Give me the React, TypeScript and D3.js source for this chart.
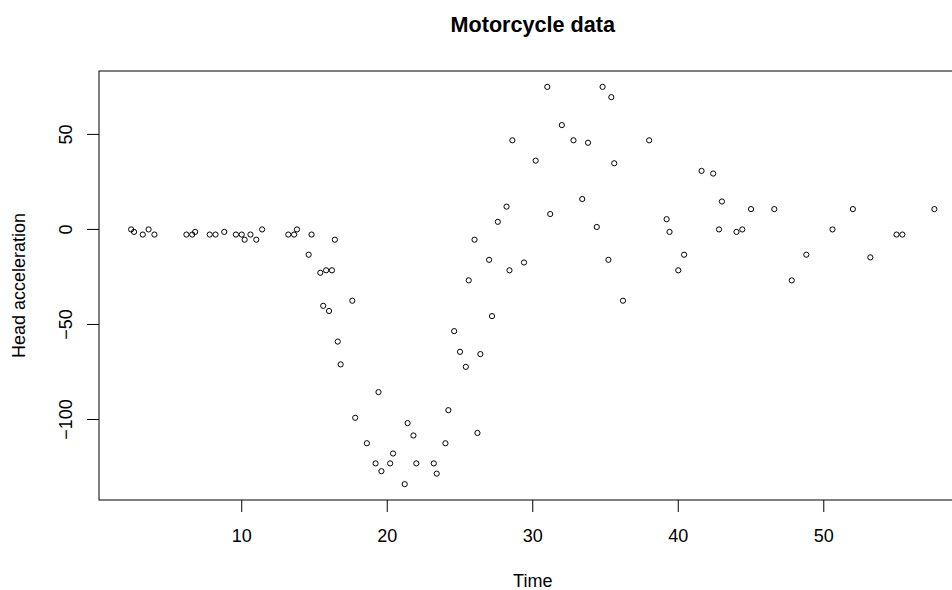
import React from "react";
import * as d3 from "d3";

// mcycle (MASS): first reading at each distinct time
const times = [
  2.4, 2.6, 3.2, 3.6, 4.0, 6.2, 6.6, 6.8, 7.8, 8.2, 8.8, 9.6, 10.0, 10.2, 10.6, 11.0, 11.4,
  13.2, 13.6, 13.8, 14.6, 14.8, 15.4, 15.6, 15.8, 16.0, 16.2, 16.4, 16.6, 16.8, 17.6, 17.8,
  18.6, 19.2, 19.4, 19.6, 20.2, 20.4, 21.2, 21.4, 21.8, 22.0, 23.2, 23.4, 24.0, 24.2, 24.6,
  25.0, 25.4, 25.6, 26.0, 26.2, 26.4, 27.0, 27.2, 27.6, 28.2, 28.4, 28.6, 29.4, 30.2, 31.0,
  31.2, 32.0, 32.8, 33.4, 33.8, 34.4, 34.8, 35.2, 35.4, 35.6, 36.2, 38.0, 39.2, 39.4, 40.0,
  40.4, 41.6, 42.4, 42.8, 43.0, 44.0, 44.4, 45.0, 46.6, 47.8, 48.8, 50.6, 52.0, 53.2, 55.0,
  55.4, 57.6,
];
const accel = [
  0.0, -1.3, -2.7, 0.0, -2.7, -2.7, -2.7, -1.3, -2.7, -2.7, -1.3, -2.7, -2.7, -5.4, -2.7, -5.4, 0.0,
  -2.7, -2.7, 0.0, -13.3, -2.7, -22.8, -40.2, -21.5, -42.9, -21.5, -5.4, -59.0, -71.0, -37.5, -99.1,
  -112.5, -123.1, -85.6, -127.2, -123.1, -117.9, -134.0, -101.9, -108.4, -123.1, -123.1, -128.5, -112.5, -95.1, -53.5,
  -64.4, -72.3, -26.8, -5.4, -107.1, -65.6, -16.0, -45.6, 4.0, 12.0, -21.5, 46.9, -17.4, 36.2, 75.0,
  8.1, 54.9, 46.9, 16.0, 45.6, 1.3, 75.0, -16.0, 69.6, 34.8, -37.5, 46.9, 5.4, -1.3, -21.5,
  -13.3, 30.8, 29.4, 0.0, 14.7, -1.3, 0.0, 10.7, 10.7, -26.8, -13.3, 0.0, 10.7, -14.7, -2.7,
  -2.7, 10.7,
];
const xTicks = [10, 20, 30, 40, 50];
const yTicks = [-100, -50, 0, 50];

const title = "Motorcycle data";
const xLabel = "Time";
const yLabel = "Head acceleration";

export default function App() {
  const W = 952;
  const H = 590;
  const left = 99;
  const right = 966.5;
  const top = 71;
  const bottom = 500;
  const font = "'Liberation Sans', Arial, Helvetica, sans-serif";

  const xExt = d3.extent(times) as [number, number];
  const yExt = d3.extent(accel) as [number, number];
  const xPad = (xExt[1] - xExt[0]) * 0.04;
  const yPad = (yExt[1] - yExt[0]) * 0.04;

  const x = d3.scaleLinear().domain([xExt[0] - xPad, xExt[1] + xPad]).range([left, right]);
  const y = d3.scaleLinear().domain([yExt[0] - yPad, yExt[1] + yPad]).range([bottom, top]);

  const fmt = (v: number) => String(v).replace("-", "\u2212");

  return (
    <svg
      width={W}
      height={H}
      style={{ position: "absolute", left: 0, top: 0, background: "#fff" }}
      fontFamily={font}
    >
      <rect x={0} y={0} width={W} height={H} fill="#fff" />
      <text x={(left + right) / 2} y={32} textAnchor="middle" fontSize={21.6} fontWeight="bold">
        {title}
      </text>

      <rect x={left} y={top} width={right - left} height={bottom - top} fill="none" stroke="#000" strokeWidth={1} />

      {xTicks.map((t) => (
        <g key={t}>
          <line x1={x(t)} x2={x(t)} y1={bottom} y2={bottom + 12} stroke="#000" />
          <text x={x(t)} y={542} textAnchor="middle" fontSize={18}>
            {fmt(t)}
          </text>
        </g>
      ))}

      {yTicks.map((t) => (
        <g key={t}>
          <line x1={left - 12} x2={left} y1={y(t)} y2={y(t)} stroke="#000" />
          <text
            transform={`translate(72,${y(t)}) rotate(-90)`}
            textAnchor="middle"
            fontSize={18}
          >
            {fmt(t)}
          </text>
        </g>
      ))}

      <text x={(left + right) / 2} y={587} textAnchor="middle" fontSize={18}>
        {xLabel}
      </text>
      <text transform={`translate(25,${(top + bottom) / 2}) rotate(-90)`} textAnchor="middle" fontSize={18}>
        {yLabel}
      </text>

      {times.map((t, i) => (
        <circle key={i} cx={x(t)} cy={y(accel[i])} r={2.6} fill="none" stroke="#000" strokeWidth={1} />
      ))}
    </svg>
  );
}
